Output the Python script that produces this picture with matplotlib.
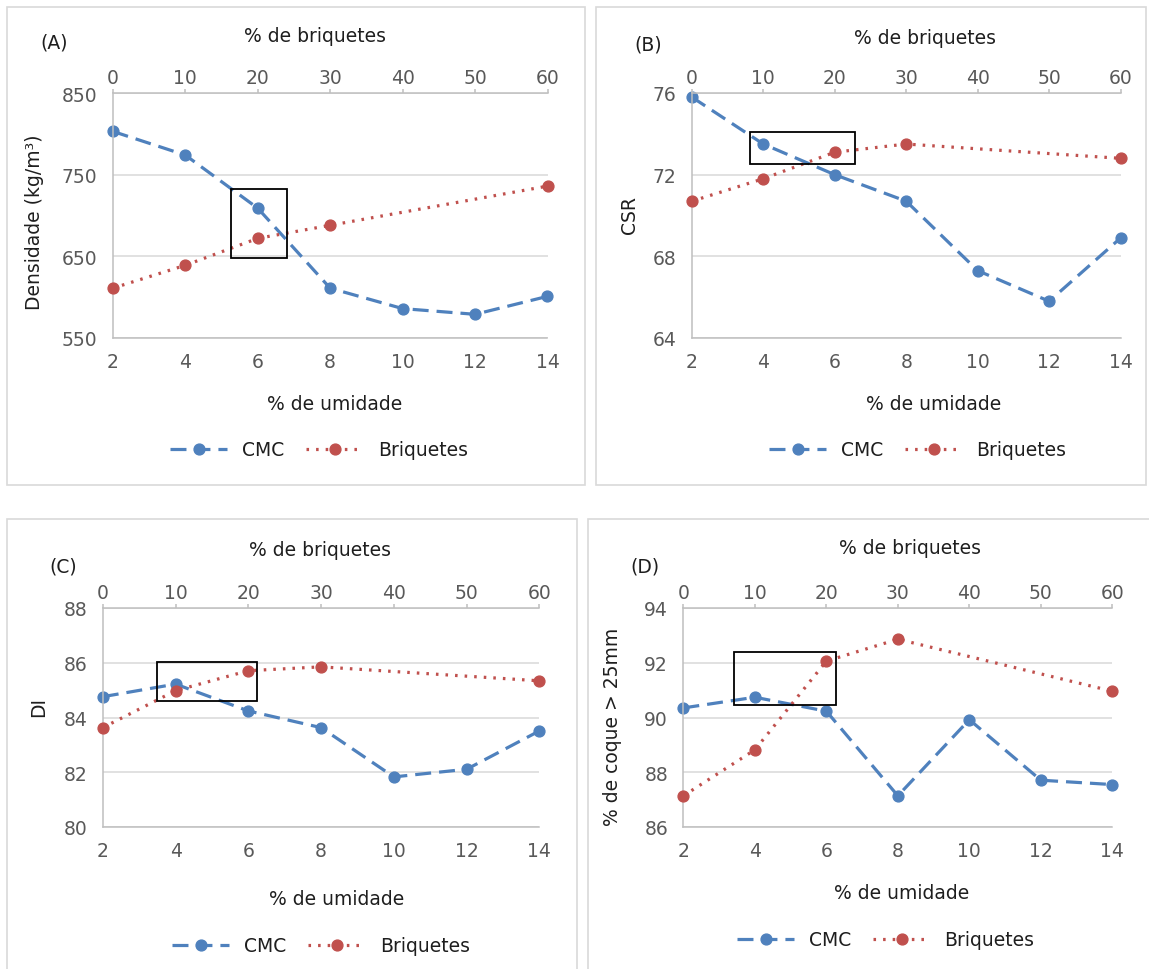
import matplotlib

matplotlib.use("Agg")
import matplotlib.pyplot as plt
from matplotlib.patches import Rectangle

W, H = 1149, 970

# x categories
umidade = [2, 4, 6, 8, 10, 12, 14]
briq_ticks = [0, 10, 20, 30, 40, 50, 60]
briq_pts = [0, 10, 20, 30, 60]

# (A) densidade
dens_cmc = [803, 774, 709, 611, 586, 579, 601]
dens_briq = [611, 639, 672, 688, 736]

# (B) CSR
csr_cmc = [75.8, 73.5, 72.0, 70.7, 67.3, 65.8, 68.9]
csr_briq = [70.7, 71.8, 73.1, 73.5, 72.8]

# (C) DI
di_cmc = [84.76, 85.22, 84.24, 83.63, 81.83, 82.11, 83.51]
di_briq = [83.63, 84.98, 85.71, 85.85, 85.34]

# (D) % coque > 25mm
coque_cmc = [90.35, 90.74, 90.23, 87.14, 89.92, 87.71, 87.55]
coque_briq = [87.14, 88.82, 92.06, 92.86, 90.96]

BLUE = "#4f81bd"
RED = "#c0504d"
TXT = "#1e1e1e"
TICK = "#595959"
FS = 13.5


def fx(x):
    return x / W


def fy(y):
    return 1 - y / H


def draw_panel(fig, lay, letter, ylabel, cmc, briq, ylim, yticks, box):
    x0, x1, y0, y1 = lay["plot"]
    ax = fig.add_axes([fx(x0), fy(y1), (x1 - x0) / W, (y1 - y0) / H])
    ax.plot(umidade, cmc, color=BLUE, lw=2.3, ls=(0, (5, 2.5)),
            marker="o", ms=7.8, label="CMC", clip_on=False)
    ax.set_xlim(2, 14)
    ax.set_ylim(*ylim)
    ax.set_xticks(umidade)
    ax.set_yticks(yticks)
    ax.grid(axis="y", color="#d9d9d9", lw=1.1)
    ax.set_axisbelow(True)
    for s in ("top", "right"):
        ax.spines[s].set_visible(False)
    for s in ("left", "bottom"):
        ax.spines[s].set_color("#bfbfbf")
        ax.spines[s].set_linewidth(1.1)
    ax.tick_params(axis="both", length=0, labelsize=FS, labelcolor=TICK)
    ax.tick_params(axis="x", pad=10)
    ax.tick_params(axis="y", pad=11)

    ax2 = ax.twiny()
    ln, = ax2.plot(briq_pts, briq, color=RED, lw=2.3, ls=(0, (0.8, 2.2)),
                   marker="o", ms=7.8, label="Briquetes", clip_on=False)
    ax2.set_xlim(0, 60)
    ax2.set_xticks(briq_ticks)
    for s in ("bottom", "right", "left"):
        ax2.spines[s].set_visible(False)
    ax2.spines["top"].set_color("#bfbfbf")
    ax2.spines["top"].set_linewidth(1.1)
    ax2.tick_params(axis="x", length=3, width=1.1, color="#bfbfbf",
                    labelsize=FS, labelcolor=TICK, pad=1.5)

    ax.set_xlabel("% de umidade", fontsize=FS, color=TXT)
    ax.xaxis.set_label_coords(fx(lay["xlab"][0]), fy(lay["xlab"][1]),
                              transform=fig.transFigure)
    ax.xaxis.label.set_va("center")
    ax2.set_xlabel("% de briquetes", fontsize=FS, color=TXT)
    ax2.xaxis.set_label_coords(fx(lay["tlab"][0]), fy(lay["tlab"][1]),
                               transform=fig.transFigure)
    ax2.xaxis.label.set_va("center")
    ax.set_ylabel(ylabel, fontsize=FS, color=TXT)
    ax.yaxis.set_label_coords(fx(lay["ylab"][0]), fy(lay["ylab"][1]),
                              transform=fig.transFigure)
    ax.yaxis.label.set_va("center")

    fig.text(fx(lay["letter"][0]), fy(lay["letter"][1]), letter,
             fontsize=FS, color=TXT, ha="center", va="center")

    bx, by, bw, bh = box
    ax2.add_patch(Rectangle((bx, by), bw, bh, transform=ax.transData,
                            fill=False, ec="black", lw=1.3, zorder=5,
                            clip_on=False))

    h1, _ = ax.get_legend_handles_labels()
    ax2.legend(h1 + [ln], ["CMC", "Briquetes"], loc="center",
               bbox_to_anchor=(fx(lay["leg"][0]), fy(lay["leg"][1])),
               bbox_transform=fig.transFigure, ncol=2, frameon=False,
               fontsize=FS, handlelength=3.0, handletextpad=0.8,
               columnspacing=1.2, numpoints=1, labelcolor=TXT)

    bx0, by0, bx1, by1 = lay["border"]
    fig.add_artist(Rectangle((fx(bx0), fy(by1)), (bx1 - bx0) / W,
                             (by1 - by0) / H, transform=fig.transFigure,
                             fill=False, ec="#d9d9d9", lw=1.2))


fig = plt.figure(figsize=(W / 100, H / 100), dpi=100)
fig.patch.set_facecolor("white")

lay_a = dict(plot=(112.8, 547.5, 94, 339), xlab=(335, 404), tlab=(315, 36),
             ylab=(35, 222), letter=(54, 43), leg=(319, 451),
             border=(7, 8, 585, 486))
lay_b = dict(plot=(691.8, 1120.6, 94, 339), xlab=(934, 404), tlab=(925, 38),
             ylab=(629, 215), letter=(648, 45), leg=(918, 451),
             border=(596, 8, 1146, 486))
lay_c = dict(plot=(102.8, 539.4, 609, 828), xlab=(337, 900), tlab=(320, 550),
             ylab=(39, 707), letter=(63, 567), leg=(321, 947),
             border=(7, 520, 577, 985))
lay_d = dict(plot=(683.4, 1112.3, 609, 828), xlab=(902, 894), tlab=(910, 548),
             ylab=(613, 727), letter=(645, 567), leg=(886, 941),
             border=(588, 520, 1160, 985))

draw_panel(fig, lay_a, "(A)", "Densidade (kg/m³)", dens_cmc, dens_briq,
           (550, 850), [550, 650, 750, 850], (5.27, 648, 1.55, 84))
draw_panel(fig, lay_b, "(B)", "CSR", csr_cmc, csr_briq,
           (64, 76), [64, 68, 72, 76], (3.62, 72.52, 2.94, 1.56))
draw_panel(fig, lay_c, "(C)", "DI", di_cmc, di_briq,
           (80, 88), [80, 82, 84, 86, 88], (3.5, 84.59, 2.75, 1.45))
draw_panel(fig, lay_d, "(D)", "% de coque > 25mm", coque_cmc, coque_briq,
           (86, 94), [86, 88, 90, 92, 94], (3.42, 90.47, 2.86, 1.92))

fig.savefig("out.png", dpi=100)
